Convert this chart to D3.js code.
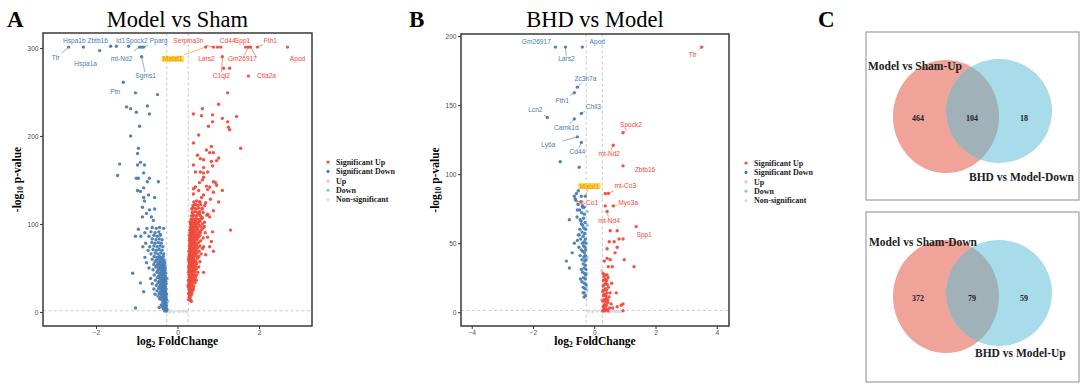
<!DOCTYPE html>
<html>
<head>
<meta charset="utf-8">
<script src="https://cdn.jsdelivr.net/npm/d3@7"></script>
<style>
  body { margin: 0; background: #fff; }
</style>
</head>
<body>
<svg id="fig" width="1080" height="386"></svg>
<script>
// ---------------- data: panel A (Model vs Sham) ----------------
const aSigUp = [
  [0.69,301,'Malat1'],[0.88,301,'Serpina3n'],[0.98,301,'Lars2'],[1.06,301,'Cd44'],[1.67,301,'Spp1'],
  [1.74,301,'Gm26917'],[1.79,301,'Ctla2a'],[1.96,301,'Fth1'],[2.70,301,'Apod'],[1.10,290,'C1ql2'],
  [1.13,277],[1.28,277],[1.74,268],[1.23,249],[1.01,236],[0.61,231],[0.39,225],[0.59,223],[0.86,224],
  [1.10,220],[1.45,222],[0.76,211],[1.23,216],[1.25,210],[0.86,216],[1.28,207],
  [0.52,201],[0.39,192],[0.83,188],[1.55,186],[0.71,184],[0.79,181],[0.88,181],[0.49,178],[1.01,175],
  [0.56,174],[0.64,173],[0.83,171],[0.96,172],[0.39,167],[0.86,166],[0.64,164],[0.44,159],[0.56,159],
  [0.64,158],[0.74,159],[0.64,153],[0.61,150],[0.54,147],[0.88,148],[0.93,147],[0.71,143],[0.96,144],
  [0.44,142],[0.79,142],[0.39,140],[0.52,138],[0.74,139],[1.10,138],[0.88,136],[0.64,133],[0.39,134],
  [0.59,130],[0.81,128],[1.01,125],[0.54,125],[0.69,124],[0.44,122],[0.37,118],[0.61,118],[0.88,115],
  [0.54,112],[0.74,111],[0.79,108],[0.39,110],[0.61,107],[1.30,93],[0.32,100],[0.52,102],[0.66,97],
  [0.86,91],[0.39,91],[0.56,90],[0.74,85],[0.83,80],[0.64,74],[0.79,74],[0.88,69],[0.69,65],[0.64,45],[0.34,12],
  [0.28,14],[0.31,16],[0.29,18],[0.33,19],[0.27,21],[0.30,22],[0.35,21],[0.32,24],[0.28,25],[0.37,24],
  [0.30,27],[0.34,27],[0.39,26],[0.27,28],[0.29,17],[0.32,13],
  [0.27,30],[0.30,31],[0.33,30],[0.36,31],[0.40,29],[0.28,33],[0.31,34],[0.35,33],[0.38,34],[0.43,33],
  [0.27,36],[0.30,37],[0.33,36],[0.37,37],[0.41,36],[0.46,36],[0.29,39],[0.32,40],[0.35,39],[0.39,40],
  [0.44,39],[0.28,42],[0.31,43],[0.34,42],[0.37,43],[0.41,42],[0.47,42],
  [0.27,45],[0.30,46],[0.33,45],[0.36,46],[0.39,45],[0.43,46],[0.50,45],[0.28,48],[0.31,49],[0.35,48],
  [0.38,49],[0.42,48],[0.46,49],[0.27,51],[0.30,52],[0.33,51],[0.36,52],[0.40,51],[0.44,52],[0.52,51],
  [0.29,54],[0.32,55],[0.35,54],[0.38,55],[0.42,54],[0.47,55],[0.28,57],[0.31,58],[0.34,57],[0.37,58],
  [0.41,57],[0.45,58],[0.55,57],[0.27,60],[0.30,61],[0.33,60],[0.36,61],[0.40,60],[0.49,61],
  [0.28,63],[0.31,64],[0.34,63],[0.37,64],[0.41,63],[0.45,64],[0.52,63],[0.29,66],[0.32,67],[0.36,66],
  [0.39,67],[0.43,66],[0.48,67],[0.58,66],[0.28,69],[0.31,70],[0.34,69],[0.38,70],[0.42,69],[0.46,70],
  [0.53,69],[0.30,72],[0.33,73],[0.36,72],[0.40,73],[0.44,72],[0.50,73],[0.61,72],[0.29,75],[0.32,76],
  [0.35,75],[0.39,76],[0.43,75],[0.47,76],[0.55,75],[0.31,78],[0.34,79],[0.37,78],[0.41,79],[0.45,78],[0.52,79],
  [0.29,81],[0.32,82],[0.35,81],[0.39,82],[0.43,81],[0.48,82],[0.57,81],[0.30,84],[0.34,85],[0.37,84],
  [0.41,85],[0.46,84],[0.51,85],[0.63,84],[0.29,87],[0.33,88],[0.36,87],[0.40,88],[0.44,87],[0.49,88],
  [0.55,87],[0.31,90],[0.35,91],[0.38,90],[0.42,91],[0.47,90],[0.53,91],[0.68,90],[0.30,93],[0.34,94],
  [0.37,93],[0.41,94],[0.45,93],[0.50,94],[0.58,93],[0.32,96],[0.36,97],[0.39,96],[0.44,97],[0.48,96],
  [0.56,97],[0.33,99],[0.38,100],[0.42,99],[0.46,100],[0.52,99],[0.61,100],
  [0.31,102],[0.35,103],[0.40,102],[0.44,103],[0.49,102],[0.55,103],[0.66,102],[0.33,105],[0.38,106],
  [0.43,105],[0.47,106],[0.53,105],[0.59,106],[0.34,109],[0.39,110],[0.45,109],[0.50,110],[0.57,109],
  [0.72,110],[0.36,113],[0.42,114],[0.48,113],[0.54,114],[0.63,113],[0.35,117],[0.41,118],[0.46,117],
  [0.52,118],[0.60,117],[0.38,121],[0.44,122],[0.50,121],[0.57,122],[0.67,121],[0.40,125],[0.47,126],[0.55,125],
  [0.29,35],[0.33,47],[0.30,58],[0.35,70],[0.32,85],[0.39,57],[0.36,40],[0.31,20],[0.44,85],[0.62,95]
];
const aSigDown = [
  [-2.67,301,'Ttr'],[-2.31,301,'Hspa1b'],[-1.64,302,'Zbtb16'],[-1.50,302],[-1.20,302,'Id1'],
  [-0.93,301,'mt-Nd2'],[-0.88,301,'Spock2'],[-0.83,301,'Pparg'],[-1.91,297,'Hspa1a'],[-0.88,290,'Sgms1'],
  [-1.33,261,'Ptn'],[-1.03,249],[-0.49,247],[-1.25,233],[-1.15,231],[-0.74,234],[-1.01,227],[-0.69,225],[-0.93,211],
  [-1.15,200],[-0.96,186],[-0.98,180],[-1.42,168],[-1.47,155],[-0.98,167],[-0.91,170],[-0.81,167],[-0.83,158],
  [-1.01,152],[-0.96,152],[-0.69,152],[-0.74,148],[-0.47,148],[-0.83,141],[-0.98,138],[-0.91,137],[-0.71,133],
  [-0.83,130],[-0.56,130],[-0.81,126],[-0.86,119],[-0.69,116],[-0.56,117],[-0.76,112],[-0.86,108],[-0.64,108],
  [-0.59,104],[-0.96,94],[-1.03,86],[-0.34,95],[-0.42,88],[-1.10,44],[-0.91,33],[-0.83,23],[-1.03,4.5],
  [-0.27,1],[-0.29,2],[-0.31,1],[-0.33,3],[-0.28,4],[-0.30,5],[-0.35,4],[-0.27,7],[-0.32,7],[-0.37,6],
  [-0.29,9],[-0.34,9],[-0.40,8],[-0.27,3],[-0.31,3],[-0.45,5],[-0.28,10],[-0.36,11],[-0.30,12],[-0.33,13],
  [-0.27,14],[-0.29,15],[-0.32,14],[-0.35,15],[-0.39,14],[-0.44,15],[-0.28,17],[-0.31,18],[-0.34,17],[-0.37,18],
  [-0.41,17],[-0.48,18],[-0.27,20],[-0.30,21],[-0.33,20],[-0.36,21],[-0.40,20],[-0.45,21],[-0.55,20],[-0.29,23],
  [-0.32,24],[-0.35,23],[-0.38,24],[-0.42,23],[-0.50,24],[-0.28,26],[-0.31,27],[-0.34,26],[-0.37,27],[-0.41,26],
  [-0.46,27],[-0.58,26],[-0.30,29],[-0.33,30],[-0.36,29],[-0.40,30],[-0.44,29],[-0.52,30],
  [-0.28,32],[-0.31,33],[-0.34,32],[-0.38,33],[-0.42,32],[-0.48,33],[-0.62,32],[-0.29,35],[-0.33,36],[-0.36,35],
  [-0.40,36],[-0.45,35],[-0.54,36],[-0.28,38],[-0.31,39],[-0.35,38],[-0.39,39],[-0.43,38],[-0.49,39],[-0.66,38],
  [-0.30,41],[-0.34,42],[-0.37,41],[-0.41,42],[-0.46,41],[-0.57,42],[-0.29,44],[-0.32,45],[-0.36,44],[-0.40,45],
  [-0.44,44],[-0.51,45],[-0.31,47],[-0.35,48],[-0.38,47],[-0.43,48],[-0.48,47],[-0.60,48],
  [-0.30,50],[-0.34,51],[-0.38,50],[-0.42,51],[-0.47,50],[-0.53,51],[-0.70,50],[-0.32,53],[-0.36,54],[-0.40,53],
  [-0.45,54],[-0.50,53],[-0.58,54],[-0.31,56],[-0.35,57],[-0.39,56],[-0.43,57],[-0.48,56],[-0.55,57],[-0.76,56],
  [-0.33,59],[-0.37,60],[-0.42,59],[-0.46,60],[-0.52,59],[-0.62,60],[-0.35,63],[-0.40,62],[-0.44,63],[-0.50,62],
  [-0.57,63],[-0.80,62],
  [-0.34,66],[-0.41,67],[-0.48,66],[-0.55,67],[-0.65,66],[-0.38,70],[-0.45,71],[-0.52,70],[-0.60,71],[-0.72,70],
  [-0.36,74],[-0.43,75],[-0.50,74],[-0.58,75],[-0.68,74],[-0.85,74],[-0.40,78],[-0.47,79],[-0.55,78],[-0.63,79],
  [-0.78,78],[-0.38,82],[-0.45,83],[-0.53,82],[-0.62,83],[-0.42,87],[-0.50,86],[-0.58,87],[-0.70,86],[-0.90,86],
  [-0.46,91],[-0.55,90],[-0.65,91],[-0.80,90],[-0.44,96],[-0.52,95],[-0.62,96],[-0.75,95]
];
const aUp = [[0.25,14],[0.24,30]];
const aDown = [[-0.25,38],[-0.24,12],[-0.25,3]];
const aNs = [[-0.20,0.5],[-0.10,0.3],[0.05,0.4],[0.15,0.8],[0.22,0.6],[-0.18,1.0]];

// ---------------- data: panel B (BHD vs Model) ----------------
const bSigUp = [
  [3.51,192,'Ttr'],[0.94,130,'Spock2'],[0.62,121,'mt-Nd2'],[0.94,106,'Zbtb16'],[0.36,86],[0.46,86,'mt-Co3'],
  [0.36,77,'mt-Co1'],[0.62,77,'Myo3a'],[0.42,73,'mt-Nd4'],[1.37,62,'Spp1'],
  [0.52,59],[0.75,59],[0.81,53],[0.94,53],[0.65,51],[0.49,51],[0.75,47],[0.42,46],[0.68,43],[0.98,38],
  [1.30,33],[0.42,39],[0.52,38],[0.33,37],[0.46,33],[0.59,33],[0.29,28],[0.72,14],[0.75,4],[0.88,5],[0.94,6],[0.94,1],
  [0.28,1],[0.31,2],[0.34,1],[0.37,3],[0.41,2],[0.45,1],[0.50,3],[0.29,4],[0.33,5],[0.36,6],[0.40,5],[0.44,7],
  [0.28,8],[0.32,9],[0.35,8],[0.39,10],[0.43,9],[0.48,11],[0.30,12],[0.34,13],[0.38,12],[0.42,14],[0.28,15],
  [0.31,16],[0.36,17],[0.40,16],[0.46,18],[0.29,19],[0.33,20],[0.38,21],[0.43,20],[0.30,23],[0.35,24],[0.40,23],
  [0.45,25],[0.32,26],[0.37,27],[0.42,27],[0.55,6],[0.60,3],[0.52,14],[0.57,21]
];
const bSigDown = [
  [-1.27,192,'Gm26917'],[-0.94,192,'Lars2'],[-0.39,192,'Apod'],[-0.55,163,'Zc3h7a'],[-0.65,159,'Fth1'],
  [-0.42,144,'Chil3'],[-1.53,141,'Lcn2'],[-0.65,140,'Camk1d'],[-0.55,127,'Ly6a'],[-0.42,123,'Cd44'],
  [-1.11,109],[-0.49,105],[-0.29,84,'Malat1'],
  [-0.81,67],[-0.91,37],[-0.81,32],[-0.72,43],[-0.65,50],[-0.55,52],[-0.49,56],[-0.42,64],[-0.46,67],[-0.55,74],
  [-0.39,77],[-0.33,76],[-0.52,88],[-0.42,84],[-0.65,84],[-0.36,14],[-0.33,11],[-0.62,82],[-0.58,86],
  [-0.28,12],[-0.33,14],[-0.30,17],[-0.36,18],[-0.27,20],[-0.32,21],[-0.40,22],[-0.29,24],[-0.35,25],[-0.45,24],
  [-0.28,27],[-0.31,28],[-0.38,29],[-0.27,31],[-0.33,32],[-0.42,31],[-0.29,34],[-0.36,35],[-0.31,37],[-0.27,38],
  [-0.40,38],[-0.34,40],[-0.29,41],[-0.46,41],[-0.32,43],[-0.37,44],[-0.28,45],[-0.42,45],[-0.30,47],[-0.35,48],
  [-0.50,47],[-0.27,50],[-0.33,51],[-0.39,50],[-0.29,53],[-0.44,53],[-0.36,55],[-0.31,57],[-0.52,56],[-0.40,58],
  [-0.28,60],[-0.34,61],[-0.47,60],[-0.38,63],[-0.30,65],[-0.43,66],[-0.35,68],[-0.56,69],[-0.32,71],[-0.41,72],
  [-0.48,74],[-0.37,76],[-0.53,78],[-0.44,80],[-0.60,81]
];
const bUp = [[0.25,30],[0.24,9]];
const bDown = [[-0.24,16],[-0.25,19],[-0.23,63],[-0.24,40],[-0.25,28],[-0.23,73]];
const bNs = [[-0.20,0.6],[-0.05,0.4],[0.10,0.8],[0.25,0.5],[0.35,0.3],[0.45,0.9],[0.55,0.5],[0.62,1.0],
  [0.70,0.4],[0.78,0.7],[0.85,0.3],[0.40,1.1],[0.50,0.2],[0.30,0.9]];

const aXTicks = [-2, 0, 2], aYTicks = [0, 100, 200, 300];
const bXTicks = [-4, -2, 0, 2, 4], bYTicks = [0, 50, 100, 150, 200];
const legendNames = ['Significant Up', 'Significant Down', 'Up', 'Down', 'Non-significant'];

// ---------------- data: panel C (Venn) ----------------
const vennTopSets = ['Model vs Sham-Up', 'BHD vs Model-Down'];
const vennTopCounts = [464, 104, 18];
const vennBottomSets = ['Model vs Sham-Down', 'BHD vs Model-Up'];
const vennBottomCounts = [372, 79, 59];

// label offsets (pixels, label centre relative to its point)
const labelPosA = {
  'Ttr':[-13,11],'Hspa1b':[-9,-6],'Zbtb16':[-13,-5],'Id1':[-8,-5],'Spock2':[-5,-6],'Pparg':[15,-6],
  'mt-Nd2':[-18,12],'Hspa1a':[-14,13],'Sgms1':[4,19],'Ptn':[-8,9],'Malat1':[-33,12],'Serpina3n':[-25,-6],
  'Lars2':[-11,12],'Cd44':[7,-6],'Spp1':[-3,-6],'Gm26917':[-6,12],'Ctla2a':[16,29],'Fth1':[13,-6],
  'Apod':[10,12],'C1ql2':[-1,19]
};
const labelPosB = {
  'Gm26917':[-19,-5],'Lars2':[1,12],'Apod':[15,-5],'Zc3h7a':[8,-8],'Fth1':[-12,8],'Chil3':[12,-7],
  'Lcn2':[-12,-8],'Camk1d':[-8,9],'Ly6a':[-29,8],'Cd44':[-4,9],'Ttr':[-9,8],'Spock2':[8,-8],
  'mt-Nd2':[-4,9],'Zbtb16':[22,4],'Malat1':[4,-10],'mt-Co3':[17,-8],'mt-Co1':[-18,-3],'Myo3a':[15,-3],
  'mt-Nd4':[2,9],'Spp1':[8,8]
};

const colors = {up: '#EE4B3B', down: '#4A7DB3', upL: '#F4B8C4', downL: '#80C8EC', ns: '#D4DDE6'};
const legendColors = [colors.up, colors.down, colors.upL, colors.downL, colors.ns];
const serif = '"Liberation Serif", "DejaVu Serif", serif';
const sans = '"Liberation Sans", Arial, sans-serif';

const svg = d3.select('#fig');

function drawVolcano(cfg) {
  const x = d3.scaleLinear().domain(cfg.xDomain).range([cfg.left, cfg.right]);
  const y = d3.scaleLinear().domain(cfg.yDomain).range([cfg.bottom, cfg.top]);
  const g = svg.append('g');

  // thresholds
  const thr = 0.263, pthr = -Math.log10(0.05);
  [-thr, thr].forEach(function (t) {
    g.append('line').attr('x1', x(t)).attr('x2', x(t)).attr('y1', cfg.top).attr('y2', cfg.bottom)
      .attr('stroke', '#bdbdbd').attr('stroke-width', 0.8).attr('stroke-dasharray', '3,2.5');
  });
  g.append('line').attr('x1', cfg.left).attr('x2', cfg.right).attr('y1', y(pthr)).attr('y2', y(pthr))
    .attr('stroke', '#bdbdbd').attr('stroke-width', 0.8).attr('stroke-dasharray', '3,2.5');

  const layers = [[cfg.ns, colors.ns], [cfg.upL, colors.upL], [cfg.downL, colors.downL],
                  [cfg.sigDown, colors.down], [cfg.sigUp, colors.up]];
  layers.forEach(function (l) {
    g.append('g').selectAll('circle').data(l[0]).join('circle')
      .attr('cx', d => x(d[0])).attr('cy', d => y(d[1])).attr('r', 1.7)
      .attr('fill', l[1]).attr('fill-opacity', 0.95);
  });

  // gene labels
  const lg = g.append('g');
  [[cfg.sigDown, colors.down], [cfg.sigUp, colors.up]].forEach(function (l) {
    l[0].filter(d => d[2]).forEach(function (d) {
      const px = x(d[0]), py = y(d[1]);
      const off = cfg.labelPos[d[2]] || [0, -6];
      const lx = px + off[0], ly = py + off[1];
      const hl = d[2] === 'Malat1';
      const t = lg.append('text').attr('x', lx).attr('y', ly + 2.3)
        .attr('text-anchor', 'middle').attr('font-family', sans).attr('font-size', 6.6)
        .attr('fill', hl ? '#F08C00' : l[1]).text(d[2]);
      const b = t.node().getBBox();
      if (hl) {
        lg.insert('rect', 'text').attr('x', b.x - 1).attr('y', b.y + 0.5).attr('width', b.width + 2)
          .attr('height', b.height - 1).attr('fill', '#FFD54A');
      }
      // segment from point to box edge
      const bx0 = b.x - 1, bx1 = b.x + b.width + 1, by0 = b.y, by1 = b.y + b.height;
      const cx = (bx0 + bx1) / 2, cy = (by0 + by1) / 2;
      const dx = cx - px, dy = cy - py;
      let tmax = 1;
      if (dx !== 0) tmax = Math.min(tmax, Math.abs(((dx > 0 ? bx0 : bx1) - px) / dx));
      if (dy !== 0) tmax = Math.min(tmax, Math.max(Math.abs(((dy > 0 ? by0 : by1) - py) / dy), 0));
      const ex = px + dx * tmax, ey = py + dy * tmax;
      const len = Math.hypot(ex - px, ey - py);
      if (len > 4 && !(px >= bx0 && px <= bx1 && py >= by0 && py <= by1)) {
        lg.append('line').attr('x1', px).attr('y1', py).attr('x2', ex).attr('y2', ey)
          .attr('stroke', hl ? '#F08C00' : l[1]).attr('stroke-width', 0.6);
      }
    });
  });

  // frame & axes
  g.append('rect').attr('x', cfg.left).attr('y', cfg.top).attr('width', cfg.right - cfg.left)
    .attr('height', cfg.bottom - cfg.top).attr('fill', 'none').attr('stroke', '#2b2b2b').attr('stroke-width', 1.4);
  const ax = g.append('g').attr('transform', 'translate(0,' + cfg.bottom + ')')
    .call(d3.axisBottom(x).tickValues(cfg.xTicks).tickFormat(d3.format('d')).tickSize(3).tickPadding(1.5).tickSizeOuter(0));
  const ay = g.append('g').attr('transform', 'translate(' + cfg.left + ',0)')
    .call(d3.axisLeft(y).tickValues(cfg.yTicks).tickFormat(d3.format('d')).tickSize(3).tickPadding(1.5).tickSizeOuter(0));
  [ax, ay].forEach(function (a) {
    a.select('.domain').remove();
    a.selectAll('.tick line').attr('stroke', '#333');
    a.selectAll('.tick text').attr('font-family', sans).attr('font-size', 6.6).attr('fill', '#4d4d4d');
  });

  // titles
  const mid = (cfg.left + cfg.right) / 2;
  svg.append('text').attr('x', mid).attr('y', 27).attr('text-anchor', 'middle')
    .attr('font-family', serif).attr('font-size', 22.5).text(cfg.title);
  svg.append('text').attr('x', cfg.letterX).attr('y', 27)
    .attr('font-family', serif).attr('font-weight', 'bold').attr('font-size', 23).text(cfg.letter);

  const xl = svg.append('text').attr('x', mid).attr('y', 345).attr('text-anchor', 'middle')
    .attr('font-family', serif).attr('font-weight', 'bold').attr('font-size', 11.5);
  xl.append('tspan').text('log');
  xl.append('tspan').attr('font-size', 7.5).attr('dy', 2).text('2');
  xl.append('tspan').attr('dy', -2).text(' FoldChange');

  const yl = svg.append('text').attr('transform', 'translate(' + cfg.yLabelX + ',' + ((cfg.top + cfg.bottom) / 2) + ') rotate(-90)')
    .attr('text-anchor', 'middle').attr('font-family', serif).attr('font-weight', 'bold').attr('font-size', 11.5);
  yl.append('tspan').text('-log');
  yl.append('tspan').attr('font-size', 7.5).attr('dy', 2).text('10');
  yl.append('tspan').attr('dy', -2).text(' p-value');

  // legend
  const leg = svg.append('g');
  legendNames.forEach(function (n, i) {
    const yy = cfg.legendY + i * 9.4;
    leg.append('circle').attr('cx', cfg.legendX).attr('cy', yy).attr('r', 1.6).attr('fill', legendColors[i]);
    leg.append('text').attr('x', cfg.legendX + 8).attr('y', yy + 2.8)
      .attr('font-family', serif).attr('font-weight', 'bold').attr('font-size', 8).attr('fill', '#222').text(n);
  });
}

drawVolcano({
  left: 43, right: 312, top: 33, bottom: 326, xDomain: [-3.3, 3.3], yDomain: [-16, 317],
  xTicks: aXTicks, yTicks: aYTicks, sigUp: aSigUp, sigDown: aSigDown, upL: aUp, downL: aDown, ns: aNs,
  labelPos: labelPosA, title: 'Model vs Sham', letter: 'A', letterX: 7, yLabelX: 21,
  legendX: 328, legendY: 162
});
drawVolcano({
  left: 461, right: 729, top: 34, bottom: 326, xDomain: [-4.35, 4.4], yDomain: [-10, 201.5],
  xTicks: bXTicks, yTicks: bYTicks, sigUp: bSigUp, sigDown: bSigDown, upL: bUp, downL: bDown, ns: bNs,
  labelPos: labelPosB, title: 'BHD vs Model', letter: 'B', letterX: 409, yLabelX: 439,
  legendX: 746, legendY: 163
});

// ---------------- panel C ----------------
svg.append('text').attr('x', 818).attr('y', 27).attr('font-family', serif)
  .attr('font-weight', 'bold').attr('font-size', 23).text('C');

function drawVenn(box, sets, counts, id) {
  const g = svg.append('g');
  g.append('rect').attr('x', box.x).attr('y', box.y).attr('width', box.w).attr('height', box.h)
    .attr('fill', 'none').attr('stroke', '#8c8c8c').attr('stroke-width', 1);
  const L = box.left, R = box.right;
  g.append('ellipse').attr('cx', L.cx).attr('cy', L.cy).attr('rx', L.rx).attr('ry', L.ry).attr('fill', '#F0A398');
  g.append('ellipse').attr('cx', R.cx).attr('cy', R.cy).attr('rx', R.rx).attr('ry', R.ry).attr('fill', '#A8DCEA');
  svg.append('clipPath').attr('id', id).append('ellipse')
    .attr('cx', R.cx).attr('cy', R.cy).attr('rx', R.rx).attr('ry', R.ry);
  g.append('ellipse').attr('cx', L.cx).attr('cy', L.cy).attr('rx', L.rx).attr('ry', L.ry)
    .attr('fill', '#A0B1B7').attr('clip-path', 'url(#' + id + ')');
  const nx = [918, 972, 1024];
  counts.forEach(function (c, i) {
    g.append('text').attr('x', nx[i]).attr('y', box.numY + 3).attr('text-anchor', 'middle')
      .attr('font-family', serif).attr('font-weight', 'bold').attr('font-size', 8).attr('fill', '#222').text(c);
  });
  g.append('text').attr('x', box.l1[0]).attr('y', box.l1[1]).attr('font-family', serif)
    .attr('font-weight', 'bold').attr('font-size', 11.5).attr('fill', '#222').text(sets[0]);
  g.append('text').attr('x', box.l2[0]).attr('y', box.l2[1]).attr('font-family', serif)
    .attr('font-weight', 'bold').attr('font-size', 11.5).attr('fill', '#222').text(sets[1]);
}

drawVenn({x: 866, y: 32, w: 213, h: 168,
  left: {cx: 946, cy: 116.5, rx: 53, ry: 56.5}, right: {cx: 999, cy: 111, rx: 53, ry: 52},
  numY: 118, l1: [868, 70], l2: [969, 181]}, vennTopSets, vennTopCounts, 'clipTop');
drawVenn({x: 866, y: 212, w: 213, h: 170,
  left: {cx: 946, cy: 296.5, rx: 53, ry: 56.5}, right: {cx: 999, cy: 293, rx: 53, ry: 53},
  numY: 298, l1: [869, 246], l2: [975, 357]}, vennBottomSets, vennBottomCounts, 'clipBottom');
</script>
</body>
</html>
